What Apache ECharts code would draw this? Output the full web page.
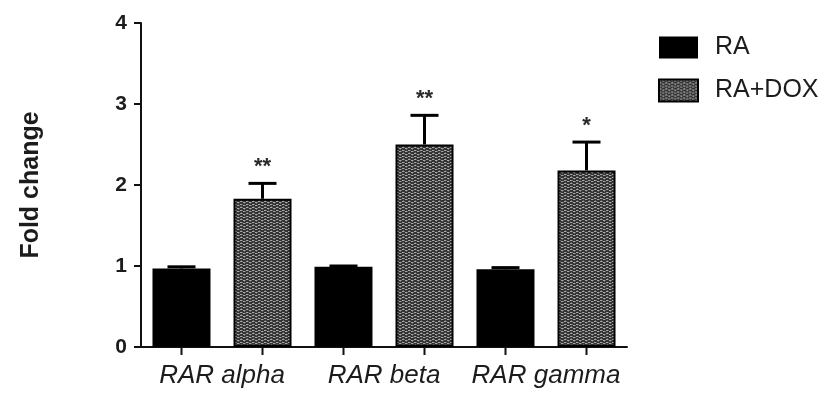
<!DOCTYPE html>
<html>
<head>
<meta charset="utf-8">
<script src="https://cdn.jsdelivr.net/npm/echarts@6/dist/echarts.min.js"></script>
<style>
  html, body { margin: 0; padding: 0; background: #fff; }
  #chart { width: 830px; height: 398px; }
</style>
</head>
<body>
<div id="chart"></div>
<script>
// Receptor genes on the x axis
const categories = ['RAR alpha', 'RAR beta', 'RAR gamma'];
const seriesNames = ['RA', 'RA+DOX'];

// Mean fold change and upper error (SEM)
const raValues = [0.97, 0.99, 0.96];
const raErrors = [0.02, 0.01, 0.02];
const doxValues = [1.83, 2.50, 2.18];
const doxErrors = [0.19, 0.36, 0.35];

// Significance marks above the RA+DOX bars
const doxStars = ['**', '**', '*'];

const yTicks = [0, 1, 2, 3, 4];

const BAR_W = 58;
const BAR_GAP = 23;
const FONT = '"Liberation Sans", Arial, Helvetica, sans-serif';
const INK = '#1c1c1c';

// Dotted/woven fill used for the RA+DOX bars
function makeHatch() {
  const c = document.createElement('canvas');
  c.width = 6; c.height = 6;
  const g = c.getContext('2d');
  g.fillStyle = '#333';
  g.fillRect(0, 0, 6, 6);
  g.fillStyle = '#a8a8a8';
  const dots = [[0,0],[1,0],[3,1],[4,1],[0,3],[1,3],[3,4],[4,4]];
  dots.forEach(([x, y]) => g.fillRect(x, y, 1, 1));
  g.fillStyle = '#666';
  [[2,0],[5,1],[2,3],[5,4],[1,2],[4,5]].forEach(([x, y]) => g.fillRect(x, y, 1, 1));
  return c;
}
const hatch = { image: makeHatch(), repeat: 'repeat' };

// Error bars (upper half), bar-centre axis ticks and significance stars
function errorSeries(values, errors, stars, side) {
  return {
    type: 'custom',
    silent: true,
    z: 5,
    data: values.map((v, i) => [i, v, errors[i], stars ? stars[i] : '']),
    renderItem: function (params, api) {
      const i = api.value(0);
      const v = api.value(1);
      const e = api.value(2);
      const base = api.coord([i, 0]);
      const dx = side * (BAR_W + BAR_GAP) / 2;
      const x = base[0] + dx;
      const top = api.coord([i, v])[1];
      const capY = api.coord([i, v + e])[1];
      const children = [
        { type: 'line', shape: { x1: x, y1: top, x2: x, y2: capY },
          style: { stroke: '#000', lineWidth: 3 } },
        { type: 'line', shape: { x1: x - 14, y1: capY, x2: x + 14, y2: capY },
          style: { stroke: '#000', lineWidth: 3 } },
        { type: 'line', shape: { x1: x, y1: base[1], x2: x, y2: base[1] + 8 },
          style: { stroke: '#111', lineWidth: 2 } }
      ];
      const s = api.value(3);
      if (s) {
        children.push({
          type: 'text',
          style: { text: s, x: x, y: capY - 16, align: 'center', verticalAlign: 'middle',
                   font: 'bold 22px ' + FONT, fill: '#2a2a2a' }
        });
      }
      return { type: 'group', children: children };
    }
  };
}

const chart = echarts.init(document.getElementById('chart'), null, { renderer: 'canvas' });
chart.setOption({
  animation: false,
  backgroundColor: '#fff',
  grid: { left: 141, right: 203, top: 23, bottom: 51, containLabel: false },
  legend: {
    data: seriesNames.map(n => ({ name: n, icon: 'rect' })),
    orient: 'vertical',
    left: 658,
    top: 35,
    padding: 0,
    itemWidth: 39,
    itemHeight: 22,
    itemGap: 18,
    selectedMode: false,
    textStyle: { fontFamily: FONT, fontSize: 25, color: INK, padding: [0, 0, 0, 12] }
  },
  xAxis: {
    type: 'category',
    data: categories,
    axisLine: { lineStyle: { color: '#111', width: 2 } },
    axisTick: { show: false },
    axisLabel: { interval: 0, hideOverlap: false, fontFamily: FONT, fontSize: 26,
                 fontStyle: 'italic', color: INK, margin: 16 }
  },
  yAxis: {
    type: 'value',
    min: yTicks[0],
    max: yTicks[yTicks.length - 1],
    interval: 1,
    name: 'Fold change',
    nameLocation: 'middle',
    nameGap: 97,
    nameTextStyle: { fontFamily: FONT, fontSize: 25, fontWeight: 'bold', color: INK },
    axisLine: { show: true, lineStyle: { color: '#111', width: 2 } },
    axisTick: { show: true, length: 7, lineStyle: { color: '#111', width: 2 } },
    axisLabel: { fontFamily: FONT, fontSize: 21, fontWeight: 'bold', color: INK, margin: 14 },
    splitLine: { show: false }
  },
  series: [
    {
      name: seriesNames[0], type: 'bar', data: raValues,
      barWidth: BAR_W, barGap: (BAR_GAP / BAR_W * 100).toFixed(1) + '%',
      itemStyle: { color: '#000', borderColor: '#000', borderWidth: 0 }
    },
    {
      name: seriesNames[1], type: 'bar', data: doxValues,
      barWidth: BAR_W,
      itemStyle: { color: hatch, borderColor: '#000', borderWidth: 2 }
    },
    errorSeries(raValues, raErrors, null, -1),
    errorSeries(doxValues, doxErrors, doxStars, 1)
  ]
});
</script>
</body>
</html>
